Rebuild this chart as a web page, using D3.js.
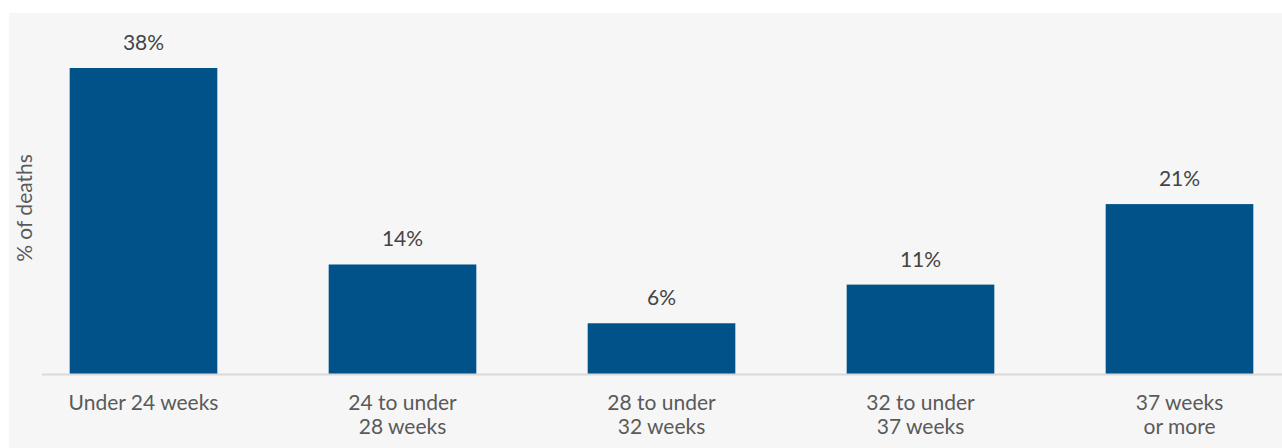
<!DOCTYPE html>
<html>
<head>
<meta charset="utf-8">
<script src="https://cdn.jsdelivr.net/npm/d3@7"></script>
<style>
  html, body { margin: 0; padding: 0; background: #ffffff; }
  svg { display: block; font-family: "Lato", "Open Sans", sans-serif; }
</style>
</head>
<body>
<div id="chart"></div>
<script>
// gestational age groups, share of deaths (%)
const categories = [
    ["Under 24 weeks"],
    ["24 to under", "28 weeks"],
    ["28 to under", "32 weeks"],
    ["32 to under", "37 weeks"],
    ["37 weeks", "or more"]
];
const values = [38, 13.6, 6.3, 11.1, 21.1];
const yLabel = "% of deaths";

const width = 1282, height = 448;
const baseY = 374;

const svg = d3.select("#chart").append("svg")
    .attr("width", width)
    .attr("height", height);

// panel
svg.append("rect")
    .attr("x", 9).attr("y", 13)
    .attr("width", width - 9).attr("height", height - 13)
    .attr("fill", "#f6f6f6");

const x = d3.scaleBand()
    .domain(d3.range(categories.length))
    .range([14, 1309])
    .paddingInner(0.43)
    .paddingOuter(0.215);

const y = d3.scaleLinear()
    .domain([0, 38])
    .range([baseY, 68]);

svg.selectAll(".bar")
    .data(values)
    .enter().append("rect")
    .attr("class", "bar")
    .attr("x", (d, i) => x(i))
    .attr("y", d => y(d))
    .attr("width", x.bandwidth())
    .attr("height", d => y(0) - y(d))
    .attr("fill", "#005288");

// baseline
svg.append("line")
    .attr("x1", 42).attr("x2", width)
    .attr("y1", baseY + 0.5).attr("y2", baseY + 0.5)
    .attr("stroke", "#d9d9d9")
    .attr("stroke-width", 2);

// value labels
svg.selectAll(".val")
    .data(values)
    .enter().append("text")
    .attr("class", "val")
    .attr("x", (d, i) => x(i) + x.bandwidth() / 2)
    .attr("y", d => y(d) - 18)
    .attr("text-anchor", "middle")
    .attr("font-size", 21)
    .attr("fill", "#444444")
    .text(d => Math.round(d) + "%");

// category labels
const cat = svg.selectAll(".cat")
    .data(categories)
    .enter().append("text")
    .attr("class", "cat")
    .attr("x", (d, i) => x(i) + x.bandwidth() / 2)
    .attr("y", 410)
    .attr("text-anchor", "middle")
    .attr("font-size", 21)
    .attr("fill", "#5a5a5a");

cat.selectAll("tspan")
    .data(d => d)
    .enter().append("tspan")
    .attr("x", function() { return d3.select(this.parentNode).attr("x"); })
    .attr("dy", (d, i) => i === 0 ? 0 : 24)
    .text(d => d);

// y axis title
svg.append("text")
    .attr("transform", "translate(32,208) rotate(-90)")
    .attr("text-anchor", "middle")
    .attr("font-size", 21)
    .attr("fill", "#5a5a5a")
    .text(yLabel);
</script>
</body>
</html>
